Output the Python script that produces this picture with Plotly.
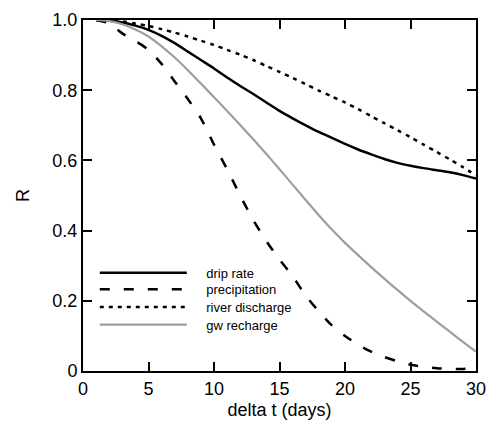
import plotly.graph_objects as go

days = list(range(1, 31))
drip_rate = [1.0, 0.998, 0.993, 0.984, 0.972, 0.955, 0.934, 0.910, 0.886, 0.862,
             0.836, 0.812, 0.789, 0.765, 0.741, 0.720, 0.700, 0.681, 0.664, 0.647,
             0.631, 0.617, 0.604, 0.593, 0.585, 0.578, 0.572, 0.566, 0.558, 0.548]
precipitation = [1.0, 0.99, 0.962, 0.94, 0.915, 0.875, 0.825, 0.775, 0.72, 0.645,
                 0.575, 0.50, 0.43, 0.37, 0.318, 0.27, 0.215, 0.17, 0.13, 0.10,
                 0.075, 0.055, 0.04, 0.028, 0.018, 0.012, 0.008, 0.006, 0.006, 0.01]
river_discharge = [1.0, 0.999, 0.996, 0.99, 0.983, 0.974, 0.964, 0.953, 0.941, 0.929,
                   0.915, 0.901, 0.886, 0.869, 0.852, 0.835, 0.817, 0.799, 0.782, 0.765,
                   0.746, 0.726, 0.706, 0.686, 0.666, 0.645, 0.624, 0.603, 0.581, 0.557]
gw_recharge = [1.0, 0.997, 0.988, 0.973, 0.953, 0.925, 0.893, 0.857, 0.819, 0.78,
               0.741, 0.701, 0.66, 0.618, 0.575, 0.531, 0.487, 0.444, 0.403, 0.365,
               0.33, 0.296, 0.263, 0.231, 0.20, 0.17, 0.141, 0.112, 0.083, 0.055]

x_ticks = [0, 5, 10, 15, 20, 25, 30]
y_ticks = [0, 0.2, 0.4, 0.6, 0.8, 1.0]
y_tick_labels = ["0", "0.2", "0.4", "0.6", "0.8", "1.0"]

FONT = "Arial, Liberation Sans, sans-serif"
PAD = "\u00a0" * 4

series = [
    ("drip rate", drip_rate, dict(color="black", width=2.5)),
    ("precipitation", precipitation, dict(color="black", width=2.5, dash="10px,14px")),
    ("river discharge", river_discharge, dict(color="black", width=2.5, dash="4px,5px")),
    ("gw recharge", gw_recharge, dict(color="#9e9e9e", width=2.2)),
]
legend_rows = [0.280, 0.2325, 0.182, 0.1317]

fig = go.Figure()
legend_layout = {}
for i, (name, vals, line) in enumerate(series):
    lname = "legend" if i == 0 else f"legend{i+1}"
    line = dict(line, shape="spline", smoothing=0.8)
    fig.add_trace(go.Scatter(x=days, y=vals, mode="lines", name=PAD + name,
                             line=line, legend=lname))
    legend_layout[lname] = dict(x=0.03, y=legend_rows[i], xanchor="left", yanchor="middle",
                                bgcolor="rgba(0,0,0,0)", itemwidth=87,
                                font=dict(family=FONT, size=13, color="black"))

axis_common = dict(showline=True, linecolor="black", linewidth=2, mirror="ticks",
                   ticks="inside", ticklen=9, tickwidth=1.5, tickcolor="black",
                   showgrid=False, zeroline=False, ticklabeloverflow="allow",
                   tickfont=dict(family=FONT, size=18, color="black"))

fig.update_xaxes(range=[0, 30], tickvals=x_ticks,
                 title=dict(text="delta t (days)", font=dict(family=FONT, size=18, color="black"),
                            standoff=6),
                 **axis_common)
fig.update_yaxes(range=[0, 1.0], tickvals=y_ticks, ticktext=y_tick_labels,
                 title=dict(text="R", font=dict(family=FONT, size=18, color="black"),
                            standoff=18),
                 **axis_common)

fig.update_layout(
    width=496, height=427,
    margin=dict(l=83, r=10, t=17, b=53),
    plot_bgcolor="white", paper_bgcolor="white",
    showlegend=True,
    **legend_layout,
)

fig.write_html("out.html")
